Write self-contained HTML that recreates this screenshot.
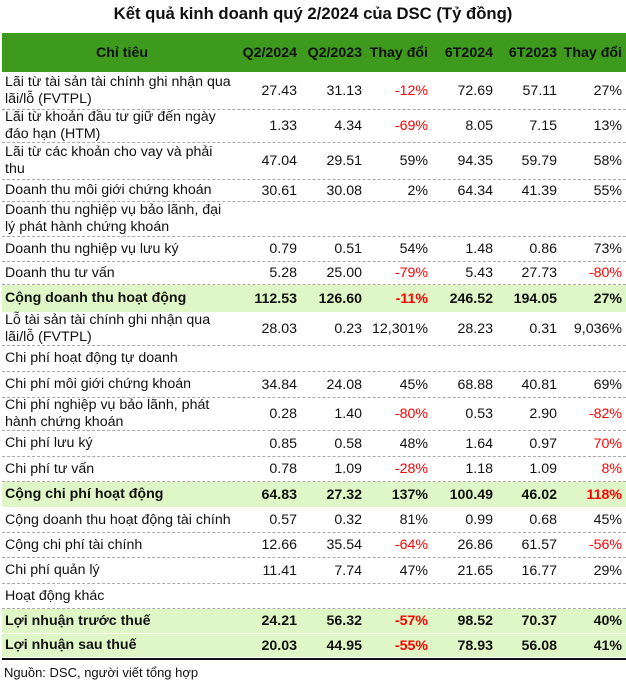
<!DOCTYPE html>
<html><head><meta charset="utf-8">
<style>
*{margin:0;padding:0;box-sizing:border-box}
body{width:626px;height:683px;background:#fff;font-family:"Liberation Sans",Arial,sans-serif;font-size:14.2px;color:#111;position:relative;overflow:hidden}
#title{position:absolute;left:0;top:4px;width:626px;text-align:center;font-weight:bold;font-size:16.7px}
#hdr{position:absolute;left:2px;top:33px;width:624px;height:39px;background:#3d9a1d;font-weight:bold;color:#111;font-size:14.2px}
.row{position:absolute;left:2px;width:624px;border-bottom:1px dashed #aaa}
.row.b{background:#dff7c6;font-weight:bold;border-bottom:1px solid #fff}
.c{position:absolute;top:0;height:100%;display:flex;align-items:center;white-space:nowrap}
.lab{left:3px;width:260px;line-height:17px;white-space:pre-line}
.n{justify-content:flex-end}
.red{color:#f00}
#foot{position:absolute;left:4px;top:665px;font-size:13px}
#bl{position:absolute;left:2px;top:658px;width:624px;height:2px;background:#111}
</style></head><body>
<div id="title">Kết quả kinh doanh quý 2/2024 của DSC (Tỷ đồng)</div>
<div id="hdr"></div>
<div id="rows"></div>
<div id="bl"></div>
<div id="foot">Nguồn: DSC, người viết tổng hợp</div>
<script>
const headers=["Chỉ tiêu","Q2/2024","Q2/2023","Thay đổi","6T2024","6T2023","Thay đổi"];
const labels=["Lãi từ tài sản tài chính ghi nhận qua\nlãi/lỗ (FVTPL)","Lãi từ khoản đầu tư giữ đến ngày\nđáo hạn (HTM)","Lãi từ các khoản cho vay và phải\nthu","Doanh thu môi giới chứng khoán","Doanh thu nghiệp vụ bảo lãnh, đại\nlý phát hành chứng khoán","Doanh thu nghiệp vụ lưu ký","Doanh thu tư vấn","Cộng doanh thu hoạt động","Lỗ tài sản tài chính ghi nhận qua\nlãi/lỗ (FVTPL)","Chi phí hoạt động tự doanh","Chi phí môi giới chứng khoán","Chi phí nghiệp vụ bảo lãnh, phát\nhành chứng khoán","Chi phí lưu ký","Chi phí tư vấn","Cộng chi phí hoạt động","Cộng doanh thu hoạt động tài chính","Cộng chi phí tài chính","Chi phí quản lý","Hoạt động khác","Lợi nhuận trước thuế","Lợi nhuận sau thuế"];
const q2024=["27.43","1.33","47.04","30.61","","0.79","5.28","112.53","28.03","","34.84","0.28","0.85","0.78","64.83","0.57","12.66","11.41","","24.21","20.03"];
const q2023=["31.13","4.34","29.51","30.08","","0.51","25.00","126.60","0.23","","24.08","1.40","0.58","1.09","27.32","0.32","35.54","7.74","","56.32","44.95"];
const qchg=["-12%","-69%","59%","2%","","54%","-79%","-11%","12,301%","","45%","-80%","48%","-28%","137%","81%","-64%","47%","","-57%","-55%"];
const h2024=["72.69","8.05","94.35","64.34","","1.48","5.43","246.52","28.23","","68.88","0.53","1.64","1.18","100.49","0.99","26.86","21.65","","98.52","78.93"];
const h2023=["57.11","7.15","59.79","41.39","","0.86","27.73","194.05","0.31","","40.81","2.90","0.97","1.09","46.02","0.68","61.57","16.77","","70.37","56.08"];
const hchg=["27%","13%","58%","55%","","73%","-80%","27%","9,036%","","69%","-82%","70%","8%","118%","45%","-56%","29%","","40%","41%"];
const hchgRed=[0,0,0,0,0,0,1,0,0,0,0,1,1,1,1,0,1,0,0,0,0];
const boldRows=[7,14,19,20];
const rowH=[38,33,37,22,35,25,23,28,33,26,26,33,26,25,26,25,25,26,25,25,24];
const colR=[0,297,362,428,493,557,622];
const hdr=document.getElementById('hdr');
headers.forEach((h,i)=>{
 const d=document.createElement('div');
 
 
 d.className='c';
 d.textContent=h;
 if(i==0){d.style.left='0';d.style.width='240px';d.style.justifyContent='center';}
 else{d.style.left=(colR[i]-2-80)+'px';d.style.width='80px';d.style.justifyContent='flex-end';}
 hdr.appendChild(d);
});
const cont=document.getElementById('rows');
let y=72;
labels.forEach((l,r)=>{
 const row=document.createElement('div');
 
 
 row.className='row'+(boldRows.includes(r)?' b':'');
 row.style.top=y+'px';row.style.height=rowH[r]+'px';
 y+=rowH[r];
 const lb=document.createElement('div');
 
 
 lb.className='c lab';lb.textContent=l;
 if(boldRows.includes(r))lb.style.width='300px';
 row.appendChild(lb);
 const vals=[q2024[r],q2023[r],qchg[r],h2024[r],h2023[r],hchg[r]];
 vals.forEach((v,i)=>{
  const c=document.createElement('div');
  
  
  c.className='c n';
  c.style.left=(colR[i+1]-2-80)+'px';c.style.width='80px';
  c.textContent=v;
  if((i==2&&v.startsWith('-'))||(i==5&&hchgRed[r]))c.classList.add('red');
  row.appendChild(c);
 });
 cont.appendChild(row);
});
</script>
</body></html>
